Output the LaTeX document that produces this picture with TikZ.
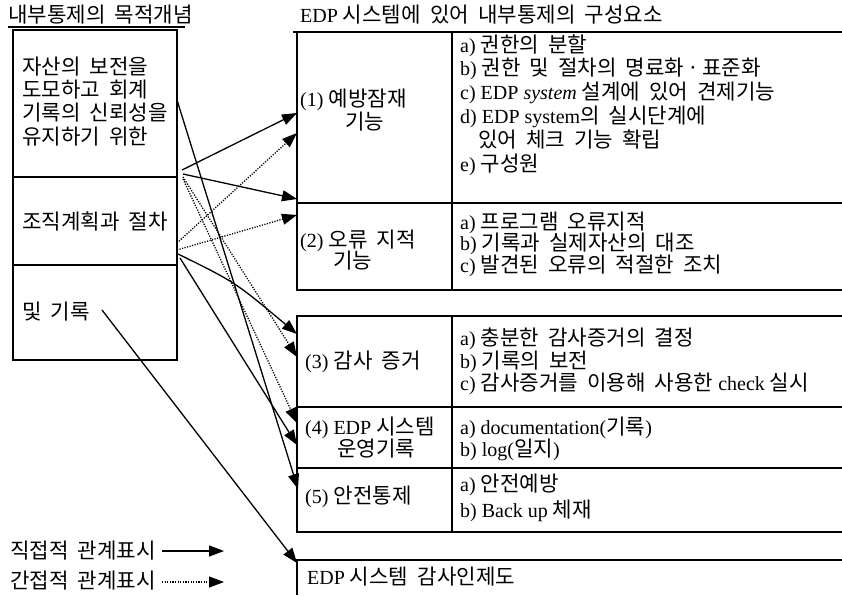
\documentclass[tikz,border=0pt]{standalone}
\usepackage{fontspec}
\setmainfont{Liberation Serif}
\newfontfamily\kr[Scale=1.06,WordSpace=1.9]{Noto Sans CJK KR}
\newcommand\K[1]{{\kr #1}}
\usetikzlibrary{arrows.meta}
\begin{document}
\begin{tikzpicture}[x=1pt,y=-1pt,
  txt/.style={anchor=west,inner sep=0pt,text height=16pt,text depth=1pt,font=\fontsize{20}{22}\selectfont},
  boxline/.style={line width=1.4pt},
  direct/.style={line width=1.3pt,-{Triangle[length=15pt,width=11pt]}},
  indirect/.style={line width=1.3pt,dash pattern=on 1.2pt off 1.4pt,-{Triangle[length=15pt,width=11pt]}},
]
\useasboundingbox[fill=white] (0,0) rectangle (842,595);

% ---------- left part ----------
\node[txt] (lt) at (8,15) {\K{내부통제의 목적개념}};
\draw[line width=1.2pt] (8,27) -- (185,27);
\draw[boxline] (13,30) rectangle (177,360);
\draw[boxline] (13,177) -- (177,177);
\draw[boxline] (13,265) -- (177,265);
\node[txt] (l1a) at (22,67) {\K{자산의 보전을}};
\node[txt] (l1b) at (22,90) {\K{도모하고 회계}};
\node[txt] (l1c) at (22,113) {\K{기록의 신뢰성을}};
\node[txt] (l1d) at (22,137) {\K{유지하기 위한}};
\node[txt] (l2) at (22,222) {\K{조직계획과 절차}};
\node[txt] (l3) at (22,312) {\K{및 기록}};

% ---------- right part ----------
\node[txt] (rt) at (300,15) {EDP \K{시스템에 있어 내부통제의 구성요소}};
% box A
\draw[boxline] (842,32) -- (293,32);
\draw[boxline] (297,32) -- (297,290) -- (842,290);
\draw[boxline] (297,203) -- (842,203);
\draw[boxline] (452,32) -- (452,290);
% box B
\draw[boxline] (842,316) -- (297,316) -- (297,532) -- (842,532);
\draw[boxline] (297,407) -- (842,407);
\draw[boxline] (297,468) -- (842,468);
\draw[boxline] (452,316) -- (452,532);
% box C
\draw[boxline] (842,560) -- (297,560) -- (297,595);

\node[txt] (c1a) at (300,99) {(1) \K{예방잠재}};
\node[txt] (c1b) at (345,122) {\K{기능}};
\node[txt] (i1a) at (460,45) {a) \K{권한의 분할}};
\node[txt] (i1b) at (460,68) {b) \K{권한 및 절차의 명료화{\kern3pt}·{\kern3pt}표준화}};
\node[txt] (i1c) at (460,92) {c) EDP \textit{system} \K{설계에 있어 견제기능}};
\node[txt] (i1d) at (460,116) {d) EDP system\K{의 실시단계에}};
\node[txt] (i1e) at (478,140) {\K{있어 체크 기능 확립}};
\node[txt] (i1f) at (460,164) {e) \K{구성원}};

\node[txt] (c2a) at (300,240) {(2) \K{오류 지적}};
\node[txt] (c2b) at (333,261) {\K{기능}};
\node[txt] (i2a) at (460,222) {a) \K{프로그램 오류지적}};
\node[txt] (i2b) at (460,243) {b) \K{기록과 실제자산의 대조}};
\node[txt] (i2c) at (460,265) {c) \K{발견된 오류의 적절한 조치}};

\node[txt] (c3) at (305,361) {(3) \K{감사 증거}};
\node[txt] (i3a) at (460,338) {a) \K{충분한 감사증거의 결정}};
\node[txt] (i3b) at (460,361) {b) \K{기록의 보전}};
\node[txt] (i3c) at (460,383) {c) \K{감사증거를 이용해 사용한} check \K{실시}};

\node[txt] (c4a) at (305,427) {(4) EDP \K{시스템}};
\node[txt] (c4b) at (337,449) {\K{운영기록}};
\node[txt] (i4a) at (460,427) {a) documentation(\K{기록})};
\node[txt] (i4b) at (460,449) {b) log(\K{일지})};

\node[txt] (c5) at (305,496) {(5) \K{안전통제}};
\node[txt] (i5a) at (460,484) {a) \K{안전예방}};
\node[txt] (i5b) at (460,510) {b) Back up \K{체재}};

\node[txt] (c6) at (307,577) {EDP \K{시스템 감사인제도}};

% ---------- connector end points ----------
\coordinate (s1a) at (182,170);
\coordinate (s1b) at (183,174);
\coordinate (s1c) at (183,177);
\coordinate (s1d) at (183,179);
\coordinate (s1e) at (177,100);
\coordinate (s2a) at (177,243);
\coordinate (s2b) at (177,250);
\coordinate (s2c) at (178,254);
\coordinate (s2d) at (180,258);
\coordinate (s3) at (102,310);
\coordinate (t1a) at (297,113);
\coordinate (t1b) at (297,133);
\coordinate (t2a) at (297,199);
\coordinate (t2b) at (297,215);
\coordinate (t3a) at (297,334);
\coordinate (t3b) at (297,357);
\coordinate (t4a) at (297,423);
\coordinate (t4b) at (297,445);
\coordinate (t5) at (298,489);
\coordinate (t6) at (297,563);

\draw[direct] (s1a) -- (t1a);
\draw[direct] (s1b) -- (t2a);
\draw[indirect] (s1c) -- (t3b);
\draw[indirect] (s1d) -- (t4a);
\draw[direct] (s1e) -- (t5);
\draw[indirect] (s2a) -- (t1b);
\draw[indirect] (s2b) -- (t2b);
\draw[direct] (s2c) .. controls (235,282) .. (t3a);
\draw[direct] (s2d) -- (t4b);
\draw[direct] (s3) -- (t6);

% ---------- legend ----------
\node[txt] (lg1) at (10,551) {\K{직접적 관계표시}};
\node[txt] (lg2) at (10,581) {\K{간접적 관계표시}};
\coordinate (lg1s) at (162,551);
\coordinate (lg1e) at (224,551);
\coordinate (lg2s) at (162,582);
\coordinate (lg2e) at (224,582);
\draw[direct] (lg1s) -- (lg1e);
\draw[indirect] (lg2s) -- (lg2e);
\end{tikzpicture}
\end{document}
